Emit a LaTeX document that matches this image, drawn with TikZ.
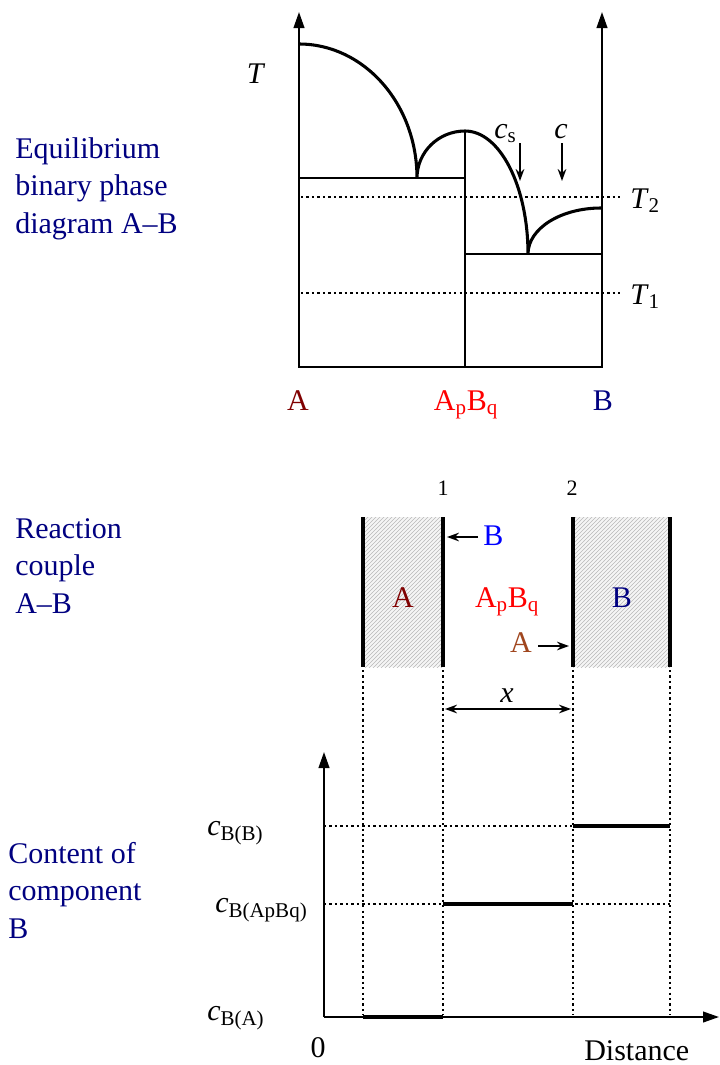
\documentclass[tikz,border=0pt]{standalone}
\usepackage{fontspec}
\setmainfont{Liberation Serif}
\usetikzlibrary{arrows.meta,patterns}

\definecolor{sidenavy}{HTML}{000080}
\definecolor{compA}{HTML}{800000}
\definecolor{compAB}{HTML}{FF0000}
\definecolor{compB}{HTML}{000080}
\definecolor{fluxB}{HTML}{0000FF}
\definecolor{fluxA}{HTML}{A0461E}

\tikzset{
  axis/.style={line width=1.5pt, -{Triangle[length=12pt,width=8pt]}},
  frame/.style={line width=1.5pt},
  liquidus/.style={line width=2.3pt},
  guide/.style={line width=2.1pt, dash pattern=on 1.8pt off 2.3pt},
  flux/.style={line width=1.2pt, -{Stealth[length=9pt,width=6.5pt]}},
  interface/.style={line width=2.3pt},
  lbl/.style={font=\fontsize{22.5}{27}\selectfont, inner sep=0pt},
  small/.style={font=\fontsize{16.5}{20}\selectfont, inner sep=0pt},
  side/.style={lbl, font=\fontsize{22.5}{28}\selectfont, text=sidenavy, align=left, anchor=base west},
}

\begin{document}
\begin{tikzpicture}[x=0.75pt, y=-0.75pt]
    \useasboundingbox (0,0) rectangle (719,1065);

    % Side captions
    \node[side] (capPhase) at (15,233) {Equilibrium\\binary phase\\diagram A--B};
    \node[side] (capCouple) at (15,613) {Reaction\\couple\\A--B};
    \node[side] (capContent) at (8,938) {Content of\\component\\B};

    % Phase diagram frame
    \coordinate (oA) at (299,367);
    \coordinate (oB) at (602,367);
    \coordinate (topA) at (299,12);
    \coordinate (topB) at (602,12);
    \draw[axis] (oA) -- (topA);
    \draw[axis] (oB) -- (topB);
    \draw[frame] (oA) -- (oB);
    \draw[frame] (299,178) rectangle (465,367);
    \draw[frame] (465,254) rectangle (602,367);
    \draw[line width=0.8pt] (465,131) -- (465,178);

    % Liquidus curves
    \draw[liquidus] (299,44)
        arc[start angle=-90, end angle=0, x radius=118, y radius=134]
        arc[start angle=180, end angle=270, x radius=48, y radius=47]
        arc[start angle=-90, end angle=0, x radius=63, y radius=123]
        arc[start angle=180, end angle=270, x radius=73, y radius=46];

    % Isotherms
    \draw[guide] (301,197) -- (621,197);
    \draw[guide] (301,293) -- (621,293);
    \node[lbl, anchor=base west] (t2) at (630,208) {\textit{T}\textsubscript{2}};
    \node[lbl, anchor=base west] (t1) at (630,304) {\textit{T}\textsubscript{1}};
    \node[lbl, anchor=base] (tAxis) at (256,83) {\textit{T}};

    % Concentration markers
    \node[lbl, anchor=base west] (cs) at (494,138) {\textit{c}\textsubscript{s}};
    \node[lbl, anchor=base west] (c) at (554,138) {\textit{c}};
    \coordinate (csTop) at (520,143);
    \coordinate (csEnd) at (520,181);
    \coordinate (cTop) at (562,143);
    \coordinate (cEnd) at (562,181);
    \draw[flux] (csTop) -- (csEnd);
    \draw[flux] (cTop) -- (cEnd);

    % Components
    \node[lbl, anchor=base, text=compA] (pA) at (298,410) {A};
    \node[lbl, anchor=base, text=compAB] (pAB) at (466,410) {A\textsubscript{p}B\textsubscript{q}};
    \node[lbl, anchor=base, text=compB] (pB) at (603,410) {B};

    % Reaction couple
    \fill[gray!8] (363,517) rectangle (443,667);
    \fill[gray!8] (573,517) rectangle (670,667);
    \fill[pattern=north east lines, pattern color=gray!55] (363,517) rectangle (443,667);
    \fill[pattern=north east lines, pattern color=gray!55] (573,517) rectangle (670,667);
    \draw[interface] (363,517) -- (363,667);
    \draw[interface] (443,517) -- (443,667);
    \draw[interface] (573,517) -- (573,667);
    \draw[interface] (670,517) -- (670,667);
    \node[small, anchor=base] (i1) at (443,495) {1};
    \node[small, anchor=base] (i2) at (572,495) {2};
    \node[lbl, anchor=base, text=compA] (layA) at (403,607) {A};
    \node[lbl, anchor=base, text=compAB] (layAB) at (507,607) {A\textsubscript{p}B\textsubscript{q}};
    \node[lbl, anchor=base, text=compB] (layB) at (622,607) {B};
    \node[lbl, anchor=base west, text=fluxB] (fB) at (483,545) {B};
    \node[lbl, anchor=base, text=fluxA] (fA) at (521,652) {A};
    \coordinate (fBStart) at (478,537);
    \coordinate (fBEnd) at (447,537);
    \coordinate (fAStart) at (538,646);
    \coordinate (fAEnd) at (569,646);
    \draw[flux] (fBStart) -- (fBEnd);
    \draw[flux] (fAStart) -- (fAEnd);

    % Layer thickness
    \coordinate (xL) at (445,709);
    \coordinate (xR) at (571,709);
    \draw[flux, {Stealth[length=9pt,width=6.5pt]}-{Stealth[length=9pt,width=6.5pt]}] (xL) -- (xR);
    \node[lbl, anchor=base] (xLab) at (507,702) {\textit{x}};

    % Concentration profile
    \coordinate (o) at (324,1017);
    \coordinate (yTop) at (324,752);
    \coordinate (xEnd) at (719,1017);
    \foreach \xx in {363,443,573,670}
        \draw[guide] (\xx,670) -- (\xx,1015);
    \draw[guide] (o |- 0,826) -- (573,826);
    \draw[guide] (o |- 0,904) -- (670,904);
    \draw[axis] (o) -- (yTop);
    \draw[axis] (o) -- (xEnd);
    \draw[interface] (573,826) -- (670,826);
    \draw[interface] (443,904) -- (573,904);
    \draw[interface] (363,1017) -- (443,1017);
    \node[lbl, anchor=base west] (cBB) at (207,835) {\textit{c}\textsubscript{B(B)}};
    \node[lbl, anchor=base west] (cBAB) at (215,912) {\textit{c}\textsubscript{B(ApBq)}};
    \node[lbl, anchor=base west] (cBA) at (207,1020) {\textit{c}\textsubscript{B(A)}};
    \node[lbl, anchor=base] (zero) at (318,1057) {0};
    \node[lbl, anchor=base west] (dist) at (584,1060) {Distance};
\end{tikzpicture}
\end{document}
